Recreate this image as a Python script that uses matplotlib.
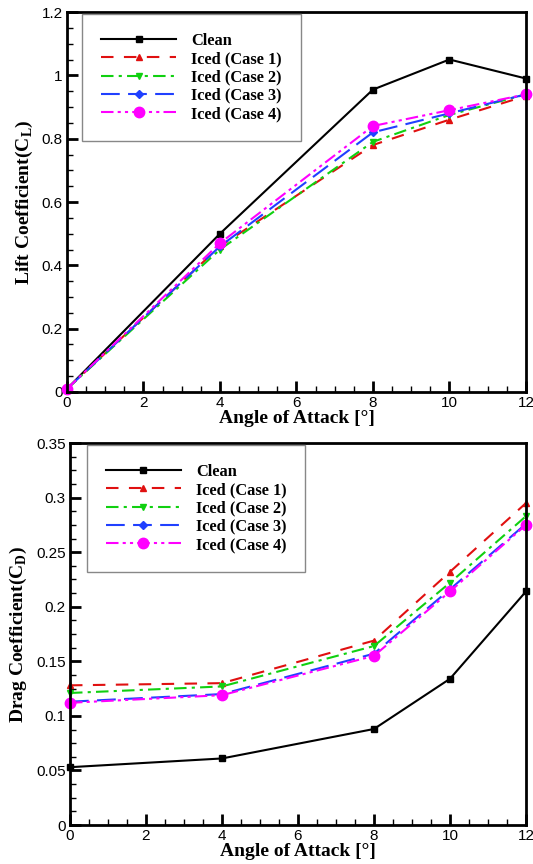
import matplotlib
matplotlib.use("Agg")
import matplotlib.pyplot as plt
from matplotlib.ticker import MultipleLocator, FuncFormatter

aoa = [0, 4, 8, 10, 12]
labels = ["Clean", "Iced (Case 1)", "Iced (Case 2)", "Iced (Case 3)", "Iced (Case 4)"]

cl_clean = [0.01, 0.50, 0.955, 1.05, 0.99]
cl_case1 = [0.01, 0.46, 0.78, 0.86, 0.935]
cl_case2 = [0.01, 0.45, 0.79, 0.875, 0.94]
cl_case3 = [0.01, 0.46, 0.82, 0.88, 0.94]
cl_case4 = [0.01, 0.47, 0.84, 0.89, 0.94]

cd_clean = [0.053, 0.061, 0.088, 0.134, 0.214]
cd_case1 = [0.128, 0.130, 0.169, 0.232, 0.295]
cd_case2 = [0.121, 0.127, 0.164, 0.222, 0.283]
cd_case3 = [0.113, 0.120, 0.157, 0.216, 0.276]
cd_case4 = [0.112, 0.119, 0.155, 0.214, 0.275]

styles = [
    dict(color="black", linestyle="-", marker="s", markersize=4.5),
    dict(color="#e01010", linestyle=(0, (6, 5)), marker="^", markersize=5),
    dict(color="#10d010", linestyle=(0, (6, 2.5, 1.5, 2.5)), marker="v", markersize=5),
    dict(color="#2040ff", linestyle=(0, (9, 4)), marker="D", markersize=4),
    dict(color="#ff00ff", linestyle=(0, (6, 2, 1.5, 2, 1.5, 2)), marker="o", markersize=7.5),
]

serif = ["Liberation Serif", "DejaVu Serif"]
sans = ["Liberation Sans", "DejaVu Sans"]

fig = plt.figure(figsize=(5.33, 8.64), dpi=100)
ax1 = fig.add_axes([0.1257, 0.5463, 0.861, 0.4398])
ax2 = fig.add_axes([0.1313, 0.0451, 0.8555, 0.4421])

def fmt_general(v, pos):
    return ("%.2f" % v).rstrip("0").rstrip(".")

def style_axes(ax, ymax, ymaj, ymin, ylabel, leg_anchor):
    ax.set_xlim(0, 12)
    ax.set_ylim(0, ymax)
    ax.xaxis.set_major_locator(MultipleLocator(2))
    ax.xaxis.set_minor_locator(MultipleLocator(0.5))
    ax.yaxis.set_major_locator(MultipleLocator(ymaj))
    ax.yaxis.set_minor_locator(MultipleLocator(ymin))
    ax.yaxis.set_major_formatter(FuncFormatter(fmt_general))
    ax.tick_params(which="major", direction="in", length=8, width=2, labelsize=11, pad=3)
    ax.tick_params(which="minor", direction="in", length=4, width=1)
    for lab in ax.get_xticklabels() + ax.get_yticklabels():
        lab.set_family(sans)
    for sp in ax.spines.values():
        sp.set_linewidth(2)
    ax.set_xlabel("Angle of Attack [°]", family=serif, fontweight="bold", fontsize=14, labelpad=0)
    ax.set_ylabel(ylabel, family=serif, fontweight="bold", fontsize=14, labelpad=5)
    leg = ax.legend(loc="upper left", bbox_to_anchor=leg_anchor, borderaxespad=0,
                    fancybox=False, edgecolor="#888888", framealpha=1,
                    handlelength=4.6, handletextpad=0.9,
                    labelspacing=0.14, borderpad=1.15,
                    prop=dict(family=serif, weight="bold", size=11.8))
    leg.get_frame().set_linewidth(1)

for ys, st, lab in zip([cl_clean, cl_case1, cl_case2, cl_case3, cl_case4], styles, labels):
    ax1.plot(aoa, ys, linewidth=1.5, label=lab, clip_on=False, **st)
for ys, st, lab in zip([cd_clean, cd_case1, cd_case2, cd_case3, cd_case4], styles, labels):
    ax2.plot(aoa, ys, linewidth=1.5, label=lab, clip_on=False, **st)

style_axes(ax1, 1.2, 0.2, 0.05, r"Lift Coefficient(C$_\mathregular{L}$)", (0.033, 0.995))
style_axes(ax2, 0.35, 0.05, 0.0125, r"Drag Coefficient(C$_\mathregular{D}$)", (0.037, 0.995))

fig.savefig("out.png", dpi=100)
